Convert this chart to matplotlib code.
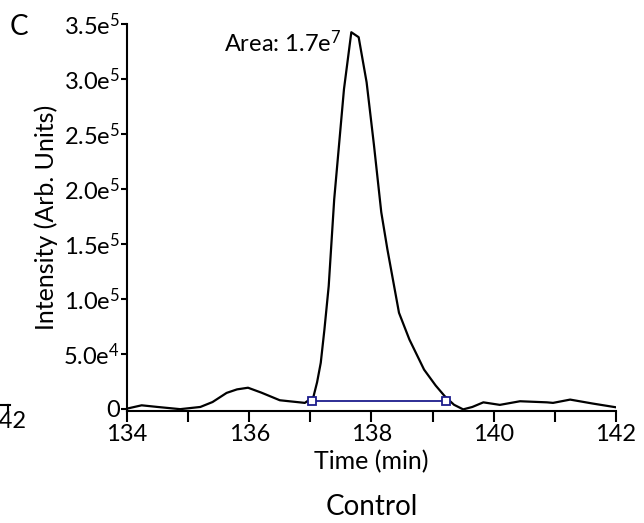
import numpy as np
import matplotlib
matplotlib.use("Agg")
import matplotlib.pyplot as plt
from matplotlib.ticker import MultipleLocator

plt.rcParams['font.family'] = ['Lato', 'DejaVu Sans']
plt.rcParams['mathtext.fontset'] = 'custom'
plt.rcParams['mathtext.rm'] = 'Lato'
plt.rcParams['mathtext.it'] = 'Lato'

# chromatogram trace (min, counts)
time_min = [134.0, 134.24, 134.5, 134.87, 135.2, 135.4, 135.63, 135.8, 135.98,
            136.2, 136.5, 136.91, 137.05, 137.11, 137.17, 137.23, 137.3,
            137.39, 137.55, 137.67, 137.79, 137.92, 138.04, 138.16, 138.26,
            138.45, 138.62, 138.86, 139.05, 139.2, 139.35, 139.5, 139.65,
            139.83, 140.1, 140.43, 140.87, 140.97, 141.25, 141.62, 142.0]
intensity = [0, 3000, 1500, -500, 1500, 6000, 14300, 17500, 19000,
             14500, 7600, 5200, 10700, 24000, 41700, 72000, 111500,
             190500, 290800, 342500, 338000, 297000, 240000, 178700, 145000,
             87200, 62900, 35500, 21000, 11200, 3500, -700, 1500,
             5700, 3400, 6700, 5700, 5200, 8200, 4600, 1200]

# integration window
area_start = 137.03
area_end = 139.22
area_baseline = 7300

y_ticks = [0, 5e4, 1e5, 1.5e5, 2e5, 2.5e5, 3e5, 3.5e5]
y_labels = ['0', '5.0e$^{4}$', '1.0e$^{5}$', '1.5e$^{5}$', '2.0e$^{5}$',
            '2.5e$^{5}$', '3.0e$^{5}$', '3.5e$^{5}$']
x_ticks = [134, 136, 138, 140, 142]

fig = plt.figure(figsize=(6.44, 5.23), dpi=100)
ax = fig.add_axes([0.1972, 0.2141, 0.7593, 0.74])

ax.plot(time_min, intensity, color='black', lw=1.6)
ax.plot([area_start, area_end], [area_baseline, area_baseline], color='#1c1c8c',
        lw=1.3, marker='s', markersize=6, markerfacecolor='white',
        markeredgecolor='#1c1c8c', markeredgewidth=1.3)

ax.text(137.5, 3.33e5, 'Area: 1.7e$^{7}$', fontsize=17, ha='right', va='center')

ax.set_xlim(134, 142)
ax.set_ylim(-2200, 3.5e5)
ax.set_xticks(x_ticks)
ax.xaxis.set_minor_locator(MultipleLocator(1))
ax.set_yticks(y_ticks)
ax.set_yticklabels(y_labels)
ax.spines['top'].set_visible(False)
ax.spines['right'].set_visible(False)
for s in ['left', 'bottom']:
    ax.spines[s].set_linewidth(1.5)
ax.tick_params(axis='x', which='both', direction='out', length=8, width=1.5,
               labelsize=17, pad=1)
ax.tick_params(axis='y', direction='out', length=4, width=1.5, labelsize=17, pad=1)

ax.set_xlabel('Time (min)', fontsize=18, labelpad=4)
ax.set_ylabel('Intensity (Arb. Units)', fontsize=18, labelpad=4)

fig.text(0.5776, 0.031, 'Control', fontsize=20, ha='center', va='center')
fig.text(0.03, 0.948, 'C', fontsize=20, ha='center', va='center')

# edge of the neighbouring panel
fig.text(0.04, 0.195, '142', fontsize=17, ha='right', va='center')
fig.add_artist(plt.Line2D([0, 0.016], [0.226, 0.226], color='black', lw=1.5))
fig.add_artist(plt.Line2D([0.013, 0.013], [0.226, 0.214], color='black', lw=1.5))

fig.savefig('out.png', dpi=100)
